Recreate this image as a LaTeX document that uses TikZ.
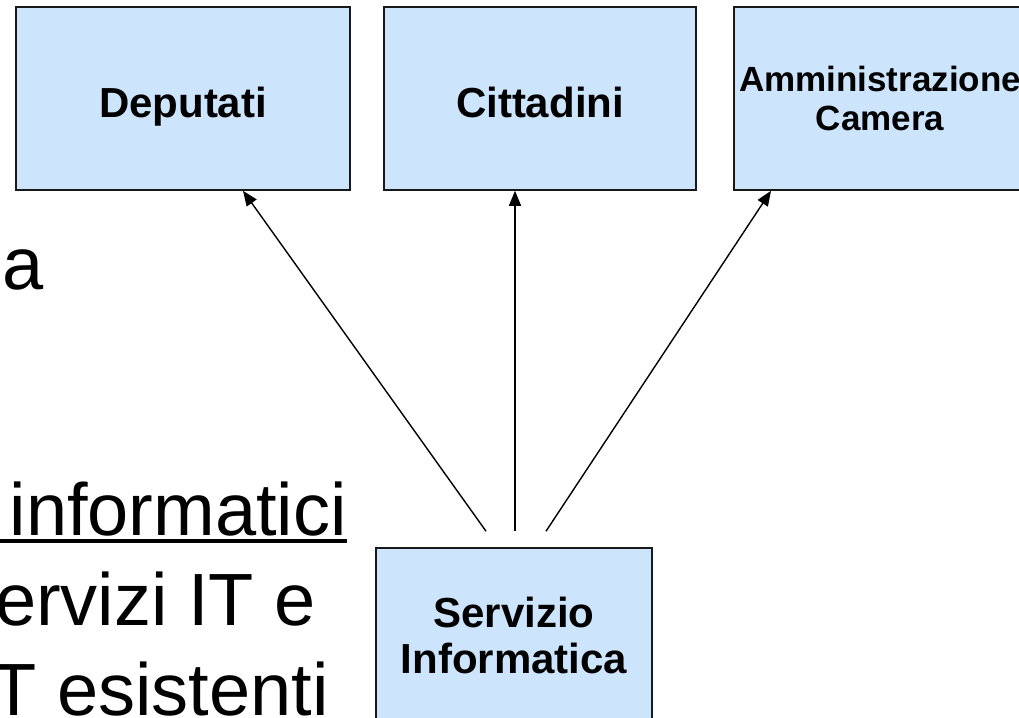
\documentclass[tikz,border=0pt]{standalone}
\usepackage{fontspec}
\setmainfont{Liberation Sans}
\usetikzlibrary{arrows.meta}
\definecolor{boxfill}{RGB}{204,228,252}
\definecolor{boxline}{RGB}{25,25,25}
\begin{document}
\begin{tikzpicture}[x=1pt,y=-1pt,
  box/.style={draw=boxline, line width=1.6pt, fill=boxfill, inner sep=0pt, align=center,
    font=\bfseries\fontsize{42}{46}\selectfont},
  oneline/.style={text height=40pt, text depth=3pt},
  arr/.style={line width=1.4pt, -{Triangle[length=15pt,width=12pt]}},
  bgtext/.style={font=\fontsize{74}{90}\selectfont, inner sep=0pt}]
\useasboundingbox (0,0) rectangle (1019,717);
\clip (0,0) rectangle (1019,717);
% background slide text fragments
\node[bgtext, anchor=base east] (ta) at (44,289) {a};
\node[bgtext, anchor=base east] (inf) at (347,535) {informatici};
\draw[line width=3.4pt] (inf.base east) ++(0,6) -- ++(-350,0);
\node[bgtext, anchor=base east] (tb) at (316,625) {ervizi IT e};
\node[bgtext, anchor=base east] (tc) at (329,715) {T esistenti};
% boxes
\node[box, oneline, minimum width=334pt, minimum height=183pt] (dep) at (183,98.5) {Deputati};
\node[box, oneline, minimum width=312pt, minimum height=183pt] (cit) at (540,98.5) {Cittadini};
\node[box, minimum width=292pt, minimum height=183pt,
  font=\bfseries\fontsize{35}{39}\selectfont] (amm) at (880,98.5) {Amministrazione\\Camera};
\node[box, minimum width=276pt, minimum height=174pt] (serv) at (514,635) {Servizio\\Informatica};
% connectors
\coordinate (s1) at ([xshift=-28pt,yshift=16pt]serv.north);
\coordinate (s2) at ([xshift=1pt,yshift=16pt]serv.north);
\coordinate (s3) at ([xshift=32pt,yshift=16pt]serv.north);
\draw[arr] (s1) -- ([xshift=60pt]dep.south);
\draw[arr] (s2) -- ([xshift=-25pt]cit.south);
\draw[arr] (s3) -- ([xshift=-109pt]amm.south);
\end{tikzpicture}
\end{document}
